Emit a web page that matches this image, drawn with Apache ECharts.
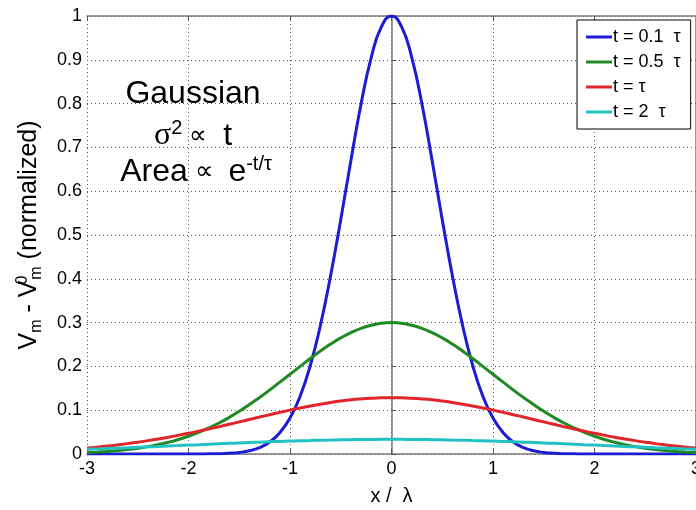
<!DOCTYPE html>
<html>
<head>
<meta charset="utf-8">
<script src="https://cdn.jsdelivr.net/npm/echarts@6/dist/echarts.min.js"></script>
<style>
html,body{margin:0;padding:0;background:#fff;}
#chart{width:696px;height:510px;}
</style>
</head>
<body>
<div id="chart"></div>
<script>
// ---- data ----
const xs = [-3.0,-2.9,-2.8,-2.7,-2.6,-2.5,-2.4,-2.3,-2.2,-2.1,-2.0,-1.9,-1.8,-1.7,-1.6,-1.5,-1.4,-1.3,-1.2,-1.1,-1.0,-0.9,-0.8,-0.7,-0.6,-0.5,-0.4,-0.3,-0.2,-0.1,0.0,0.1,0.2,0.3,0.4,0.5,0.6,0.7,0.8,0.9,1.0,1.1,1.2,1.3,1.4,1.5,1.6,1.7,1.8,1.9,2.0,2.1,2.2,2.3,2.4,2.5,2.6,2.7,2.8,2.9,3.0];
const legendNames = ["t = 0.1  \u03c4","t = 0.5  \u03c4","t = \u03c4","t = 2  \u03c4"];
const yT01 = [0,0,0,0,0,0,0,0,0,0,0,0,0.0003,0.0007,0.0017,0.0036,0.0074,0.0146,0.0273,0.0486,0.082,0.132,0.202,0.294,0.407,0.535,0.670,0.799,0.905,0.975,1.0,0.975,0.905,0.799,0.670,0.535,0.407,0.294,0.202,0.132,0.082,0.0486,0.0273,0.0146,0.0074,0.0036,0.0017,0.0007,0.0003,0,0,0,0,0,0,0,0,0,0,0,0];
const yT05 = [0.0033,0.0045,0.0059,0.0078,0.0102,0.0132,0.0168,0.0213,0.0267,0.0331,0.0406,0.0494,0.0594,0.0707,0.0834,0.0974,0.113,0.129,0.146,0.164,0.182,0.200,0.218,0.235,0.251,0.265,0.277,0.287,0.294,0.2985,0.300,0.2985,0.294,0.287,0.277,0.265,0.251,0.235,0.218,0.200,0.182,0.164,0.146,0.129,0.113,0.0974,0.0834,0.0707,0.0594,0.0494,0.0406,0.0331,0.0267,0.0213,0.0168,0.0132,0.0102,0.0078,0.0059,0.0045,0.0033];
const yT1 = [0.0136,0.0157,0.0181,0.0208,0.0237,0.0270,0.0305,0.0343,0.0383,0.0427,0.0473,0.0522,0.0572,0.0624,0.0678,0.0733,0.0788,0.0843,0.0897,0.0950,0.1002,0.1050,0.1096,0.1138,0.1175,0.1208,0.1236,0.1257,0.1273,0.1283,0.1286,0.1283,0.1273,0.1257,0.1236,0.1208,0.1175,0.1138,0.1096,0.1050,0.1002,0.0950,0.0897,0.0843,0.0788,0.0733,0.0678,0.0624,0.0572,0.0522,0.0473,0.0427,0.0383,0.0343,0.0305,0.0270,0.0237,0.0208,0.0181,0.0157,0.0136];
const yT2 = [0.0108,0.0117,0.0125,0.0134,0.0143,0.0153,0.0163,0.0172,0.0182,0.0192,0.0203,0.0213,0.0223,0.0233,0.0243,0.0252,0.0261,0.0270,0.0279,0.0287,0.0295,0.0302,0.0308,0.0314,0.0319,0.0324,0.0327,0.0330,0.0332,0.0334,0.0334,0.0334,0.0332,0.0330,0.0327,0.0324,0.0319,0.0314,0.0308,0.0302,0.0295,0.0287,0.0279,0.0270,0.0261,0.0252,0.0243,0.0233,0.0223,0.0213,0.0203,0.0192,0.0182,0.0172,0.0163,0.0153,0.0143,0.0134,0.0125,0.0117,0.0108];
const xTicks = [-3,-2,-1,0,1,2,3];
const yTicks = [0,0.1,0.2,0.3,0.4,0.5,0.6,0.7,0.8,0.9,1];

const colors = ['#1c1cd2','#1f8a24','#e0262a','#22c2c4'];
const seriesY = [yT01, yT05, yT1, yT2];

const FONT = '"Liberation Sans", Arial, Helvetica, sans-serif';
const chart = echarts.init(document.getElementById('chart'), null, {renderer:'canvas'});

const series = seriesY.map((ys, i) => ({
  name: legendNames[i],
  type: 'line',
  data: xs.map((x, k) => [x, ys[k]]),
  smooth: true,
  symbol: 'none',
  lineStyle: {color: colors[i], width: 3},
  itemStyle: {color: colors[i]},
  z: 3 + i
}));

const gridLine = {show: true, lineStyle: {color: '#555', width: 1, type: [1, 3]}};
const axisLineStyle = {lineStyle: {color: '#7a7a7a', width: 1.5}};

chart.setOption({
  animation: false,
  backgroundColor: '#fff',
  grid: {left: 87, right: 0, top: 16, bottom: 56, containLabel: false, outerBoundsMode: 'none'},
  xAxis: [{
    type: 'value', min: -3, max: 3, interval: 1,
    axisLine: {show: true, ...axisLineStyle},
    axisTick: {show: true, inside: true, length: 5, lineStyle: {color: '#555'}},
    axisLabel: {color: '#000', fontSize: 18, fontFamily: FONT, margin: 6,
      formatter: v => xTicks.includes(v) ? String(v) : ''},
    splitLine: gridLine,
    name: 'x /  \u03bb', nameLocation: 'middle', nameGap: 32,
    nameTextStyle: {color: '#000', fontSize: 20, fontFamily: FONT}
  }, {
    type: 'value', position: 'top', min: -3, max: 3, interval: 1,
    axisLine: {show: true, onZero: false, ...axisLineStyle},
    axisTick: {show: true, inside: true, length: 5, lineStyle: {color: '#555'}},
    axisLabel: {show: false}, splitLine: {show: false}
  }],
  yAxis: [{
    type: 'value', min: 0, max: 1, interval: 0.1,
    axisLine: {show: true, ...axisLineStyle},
    axisTick: {show: true, inside: true, length: 5, lineStyle: {color: '#555'}},
    axisLabel: {color: '#000', fontSize: 18, fontFamily: FONT, margin: 5,
      formatter: v => { const t = yTicks.find(y => Math.abs(y - v) < 1e-9); return t === undefined ? '' : String(t); }},
    splitLine: gridLine,
    name: '{n|V}{sb|m}{n| - V}{sp|0}{sb|m}{n| (normalized)}',
    nameLocation: 'middle', nameGap: 35, nameRotate: 90,
    nameTextStyle: {
      color: '#000', fontFamily: FONT, fontSize: 25, lineHeight: 34,
      rich: {
        n: {fontSize: 25, fontFamily: FONT, color: '#000', lineHeight: 34},
        sb: {fontSize: 16, fontFamily: FONT, color: '#000', verticalAlign: 'bottom', lineHeight: 34, padding: [0,0,1,0]},
        sp: {fontSize: 16, fontFamily: FONT, color: '#000', verticalAlign: 'top', lineHeight: 34, width: 1, padding: [3,0,0,0]}
      }
    }
  }, {
    type: 'value', position: 'right', min: 0, max: 1, interval: 0.1,
    axisLine: {show: true, onZero: false, ...axisLineStyle},
    axisTick: {show: false}, axisLabel: {show: false}, splitLine: {show: false}
  }],
  legend: {
    data: legendNames,
    orient: 'vertical',
    left: 577, top: 20,
    backgroundColor: '#fff',
    borderColor: '#000', borderWidth: 1, borderRadius: 0,
    padding: [8, 10, 8, 9],
    itemGap: 7,
    itemWidth: 26, itemHeight: 3,
    icon: 'rect',
    textStyle: {color: '#000', fontSize: 18, fontFamily: FONT, lineHeight: 18, padding: [0,0,0,-4]}
  },
  graphic: [
    {type: 'text', x: 193, y: 94, z: 10, style: {text: 'Gaussian', font: '32px ' + FONT, fill: '#000', align: 'center', verticalAlign: 'middle'}},
    {type: 'text', x: 193, y: 136, z: 10, style: {
      text: '{g|\u03c3}{s|2}{m| \u221d }{a| t}', align: 'center', verticalAlign: 'middle',
      rich: {
        g: {fontSize: 32, fontFamily: '"Liberation Serif", "DejaVu Serif", serif', fill: '#000', lineHeight: 36},
        a: {fontSize: 32, fontFamily: FONT, fill: '#000', lineHeight: 36},
        m: {fontSize: 25, fontFamily: FONT, fill: '#000', lineHeight: 36},
        s: {fontSize: 20, fontFamily: FONT, fill: '#000', verticalAlign: 'top', lineHeight: 36}
      }}},
    {type: 'text', x: 196, y: 172, z: 10, style: {
      text: '{a|Area}{m| \u221d  }{a|e}{s|-t/\u03c4}', align: 'center', verticalAlign: 'middle',
      rich: {
        a: {fontSize: 32, fontFamily: FONT, fill: '#000', lineHeight: 36},
        m: {fontSize: 26, fontFamily: FONT, fill: '#000', lineHeight: 36},
        s: {fontSize: 20, fontFamily: FONT, fill: '#000', verticalAlign: 'top', lineHeight: 36}
      }}}
  ],
  series: series
});
</script>
</body>
</html>
